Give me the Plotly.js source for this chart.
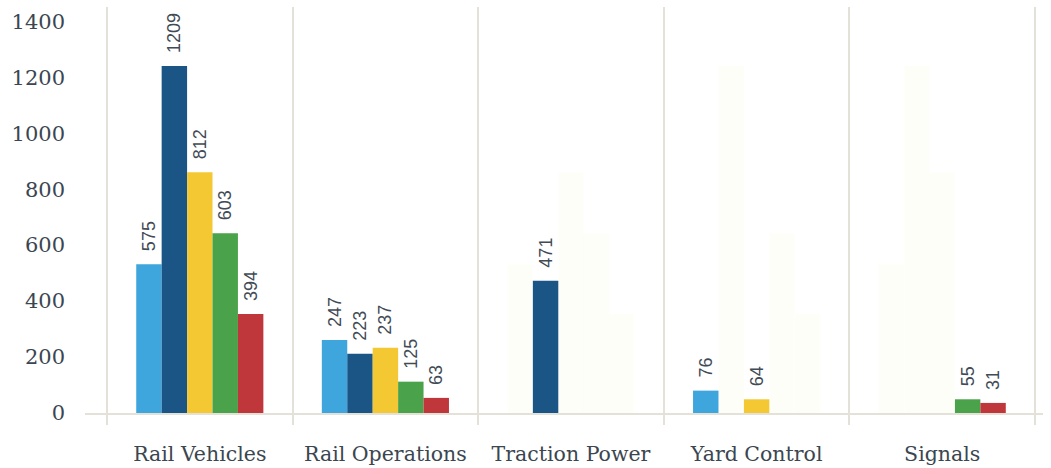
<!DOCTYPE html>
<html>
<head>
<meta charset="utf-8">
<script src="https://cdn.plot.ly/plotly-3.0.1.min.js"></script>
<style>html,body{margin:0;padding:0;background:#fff;}#chart{width:1051px;height:468px;}</style>
</head>
<body>
<div id="chart"></div>
<script>
// Categories
var categories = ['Rail Vehicles', 'Rail Operations', 'Traction Power', 'Yard Control', 'Signals'];

// Bar heights as drawn in the picture (five series)
var series1Heights = [532, 261, null, 80, null];
var series2Heights = [1240, 212, 473, null, null];
var series3Heights = [860, 233, null, 49, null];
var series4Heights = [642, 112, null, null, 49];
var series5Heights = [354, 54, null, null, 36];

// Value labels printed above the bars
var series1Labels = ['575', '247', '', '76', ''];
var series2Labels = ['1209', '223', '471', '', ''];
var series3Labels = ['812', '237', '', '64', ''];
var series4Labels = ['603', '125', '', '', '55'];
var series5Labels = ['394', '63', '', '', '31'];

// Faint ghost bars visible in the empty slots
var series1Ghost = [null, null, 532, null, 532];
var series2Ghost = [null, null, null, 1240, 1240];
var series3Ghost = [null, null, 860, null, 860];
var series4Ghost = [null, null, 642, 642, null];
var series5Ghost = [null, null, 354, 354, null];

var colors = ['#3ea6dc', '#1a5585', '#f4c833', '#4aa34a', '#c0373b'];
var heights = [series1Heights, series2Heights, series3Heights, series4Heights, series5Heights];
var labels = [series1Labels, series2Labels, series3Labels, series4Labels, series5Labels];
var ghosts = [series1Ghost, series2Ghost, series3Ghost, series4Ghost, series5Ghost];

var traces = [];
for (var i = 0; i < 5; i++) {
  traces.push({
    type: 'bar', x: categories, y: ghosts[i], offsetgroup: 'g' + i,
    marker: {color: 'rgba(250,250,220,0.18)', line: {width: 0}},
    hoverinfo: 'skip', showlegend: false
  });
}
for (var j = 0; j < 5; j++) {
  traces.push({
    type: 'bar', x: categories, y: heights[j], offsetgroup: 'g' + j,
    name: 'Series ' + (j + 1),
    marker: {color: colors[j], line: {width: 0}},
    text: labels[j].map(function (t) { return t ? '\u00a0\u00a0' + t : ''; }),
    textposition: 'outside', textangle: -90, cliponaxis: false,
    constraintext: 'none',
    textfont: {family: 'Liberation Sans, Arial, sans-serif', size: 18, color: '#414b55'},
    showlegend: false
  });
}

var lineCol = '#e4e1d8';
var layout = {
  width: 1051, height: 468,
  margin: {l: 85, r: 8, t: 7, b: 55},
  paper_bgcolor: '#ffffff', plot_bgcolor: '#ffffff',
  barmode: 'group', bargap: 0.315, bargroupgap: 0,
  showlegend: false,
  font: {family: 'DejaVu Serif, Georgia, serif', color: '#3b4650'},
  xaxis: {
    type: 'category', range: [-0.6185, 4.543],
    tickson: 'boundaries', showgrid: true, gridcolor: lineCol, gridwidth: 2,
    ticks: 'outside', ticklen: 10, tickwidth: 2, tickcolor: lineCol,
    showline: true, linecolor: lineCol, linewidth: 2,
    zeroline: false,
    tickfont: {family: 'DejaVu Serif, Georgia, serif', size: 20.5, color: '#3b4650'},
    ticklabelstandoff: 21
  },
  yaxis: {
    range: [0, 1451], tickvals: [0, 200, 400, 600, 800, 1000, 1200, 1400],
    showgrid: false, zeroline: false, showline: false, ticks: '',
    tickfont: {family: 'DejaVu Serif, Georgia, serif', size: 21, color: '#3b4650'},
    ticklabelstandoff: 19
  }
};

Plotly.newPlot('chart', traces, layout, {staticPlot: true, displayModeBar: false});
</script>
</body>
</html>
